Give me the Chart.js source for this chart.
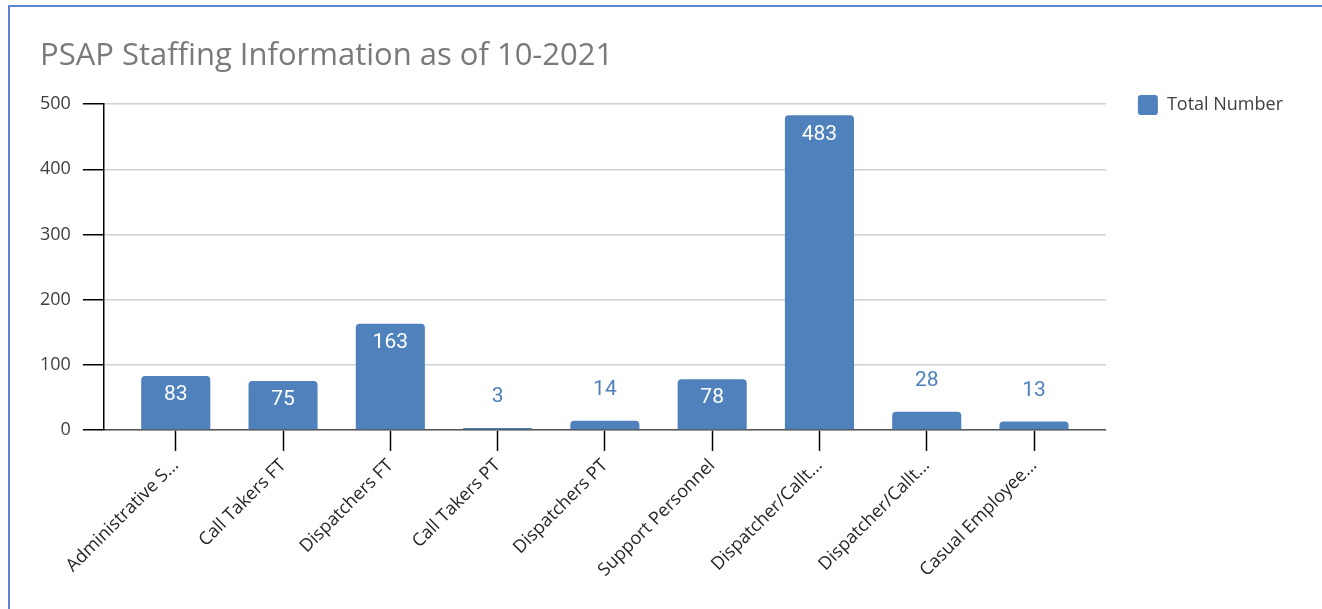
<!DOCTYPE html>
<html>
<head>
<meta charset="utf-8">
<script src="https://cdn.jsdelivr.net/npm/chart.js@4/dist/chart.umd.min.js"></script>
<style>
  html, body { margin:0; padding:0; background:#fff; overflow:hidden; }
  .frame { position:absolute; left:8px; top:5px; width:1400px; height:700px; border-left:2px solid #5b86d6; border-top:2px solid #5b86d6; }
  #chart { position:absolute; left:0; top:0; }
</style>
</head>
<body>
<div class="frame"></div>
<canvas id="chart" width="1322" height="609"></canvas>
<script>
// data
const CATEGORIES = ['Administrative S...', 'Call Takers FT', 'Dispatchers FT', 'Call Takers PT', 'Dispatchers PT',
                    'Support Personnel', 'Dispatcher/Callt...', 'Dispatcher/Callt...', 'Casual Employee...'];
const TOTALS = [83, 75, 163, 3, 14, 78, 483, 28, 13];
const Y_TICKS = [0, 100, 200, 300, 400, 500];
const SERIES_NAME = 'Total Number';
const TITLE = 'PSAP Staffing Information as of 10-2021';

const BLUE = '#4f81bd';

// value labels: white inside tall bars, blue above short ones
const valueLabels = {
  id: 'valueLabels',
  afterDatasetsDraw(chart) {
    const ctx = chart.ctx;
    const meta = chart.getDatasetMeta(0);
    ctx.save();
    ctx.font = '21px Roboto';
    ctx.textAlign = 'center';
    ctx.textBaseline = 'middle';
    meta.data.forEach((bar, i) => {
      const v = TOTALS[i];
      if (v > 50) {
        ctx.fillStyle = '#ffffff';
        ctx.fillText(String(v), bar.x, bar.y + 19);
      } else {
        ctx.fillStyle = BLUE;
        ctx.fillText(String(v), bar.x, bar.y - 31);
      }
    });
    ctx.restore();
  }
};

new Chart(document.getElementById('chart'), {
  type: 'bar',
  data: {
    datasets: [{
      label: SERIES_NAME,
      data: TOTALS.map((v, i) => ({ x: i, y: v })),
      backgroundColor: BLUE,
      borderRadius: 4,
      borderSkipped: 'start',
      barPercentage: 0.644,
      categoryPercentage: 1
    }]
  },
  options: {
    responsive: false,
    animation: false,
    layout: { padding: { left: 40, right: 29, top: 38, bottom: 24 } },
    plugins: {
      title: {
        display: true, text: TITLE, align: 'start',
        color: '#7a7a7a', font: { family: 'Open Sans', size: 31, weight: 'normal' },
        padding: { top: 0, bottom: 29 }
      },
      legend: {
        position: 'right', align: 'start',
        title: { display: true, text: ' ', font: { size: 10 }, padding: { top: 0, bottom: 13 } },
        labels: {
          boxWidth: 20, boxHeight: 20, useBorderRadius: true, borderRadius: 3,
          color: '#404040', font: { family: 'Open Sans', size: 18 }, padding: 32
        }
      },
      tooltip: { enabled: false }
    },
    scales: {
      x: {
        type: 'linear', min: -0.67, max: 8.67, offset: false,
        grid: { offset: false, drawOnChartArea: false, tickLength: 21, tickColor: '#000', tickWidth: 1.5 },
        border: { color: '#555', width: 1.5 },
        ticks: {
          stepSize: 1, includeBounds: false, autoSkip: false,
          minRotation: 45, maxRotation: 45, padding: 4,
          color: '#262626', font: { family: 'Open Sans', size: 18 },
          callback: v => CATEGORIES[v]
        }
      },
      y: {
        min: Y_TICKS[0], max: Y_TICKS[Y_TICKS.length - 1],
        // chart.js reserves the tick padding twice; keep only one
        afterFit: s => { s.width -= s.options.ticks.padding; },
        grid: { color: '#d0d0d0', lineWidth: 1.5, tickLength: 21, tickColor: '#000', tickWidth: 1.5 },
        border: { color: '#000', width: 1.5 },
        afterBuildTicks: s => { s.ticks = Y_TICKS.map(v => ({ value: v })); },
        ticks: { padding: 12, color: '#404040', font: { family: 'Open Sans', size: 18 } }
      }
    }
  },
  plugins: [valueLabels]
});
</script>
</body>
</html>
